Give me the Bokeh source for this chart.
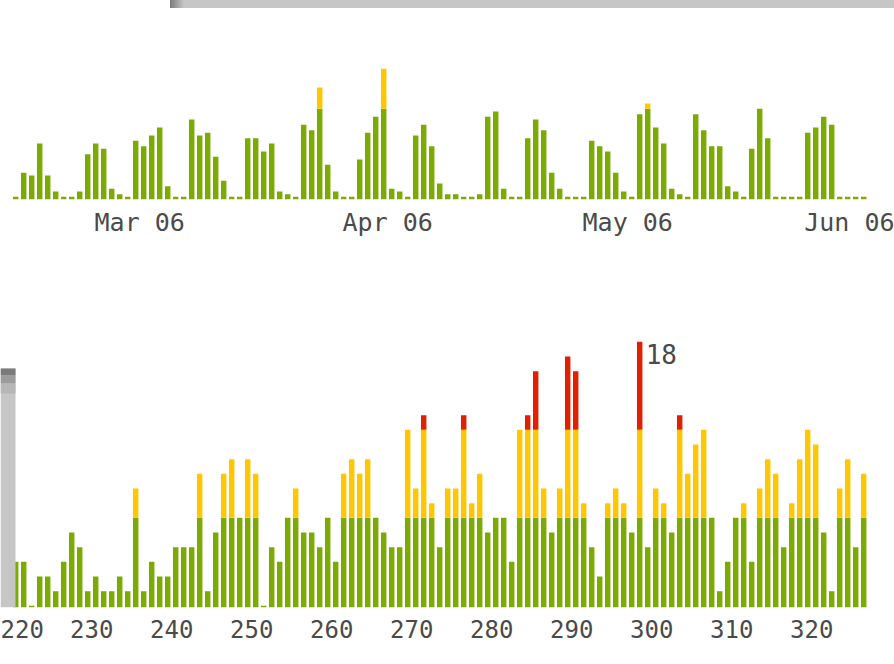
import pandas as pd
from bokeh.plotting import figure
from bokeh.models import (ColumnDataSource, Range1d, FixedTicker, DatetimeTickFormatter,
                          BoxAnnotation, Spacer, Div)
from bokeh.layouts import column, row
from bokeh.embed import file_html
from bokeh.resources import INLINE
from bokeh.core.properties import value

# ---------------- data ----------------
top_start = "2006-02-13"
top_values = [0, 9, 8, 20, 8, 2, 0, 0, 2, 16,
              20, 18, 3, 1, 0, 21, 19, 23, 26, 4,
              0, 0, 29, 23, 24, 15, 6, 0, 0, 22,
              22, 17, 20, 2, 1, 0, 27, 25, 41, 12,
              2, 0, 0, 14, 24, 30, 48, 3, 2, 0,
              23, 27, 19, 5, 1, 1, 0, 0, 1, 30,
              32, 3, 0, 0, 22, 29, 25, 9, 3, 0,
              0, 0, 21, 19, 17, 9, 2, 0, 31, 35,
              26, 20, 3, 1, 0, 31, 25, 19, 19, 4,
              2, 0, 18, 33, 22, 0, 0, 0, 0, 24,
              26, 30, 27, 0, 0, 0, 0]
top_green_cap = 33
top_month_ticks = ["2006-03-01", "2006-04-01", "2006-05-01", "2006-06-01"]

bottom_days = list(range(220, 327))
bottom_values = [3, 3, 0, 2, 2, 1, 3, 5, 4, 1,
                 2, 1, 1, 2, 1, 8, 1, 3, 2, 2,
                 4, 4, 4, 9, 1, 5, 9, 10, 6, 10,
                 9, 0, 4, 3, 6, 8, 5, 5, 4, 6,
                 3, 9, 10, 9, 10, 6, 5, 4, 4, 12,
                 8, 13, 7, 4, 8, 8, 13, 7, 9, 5,
                 6, 6, 3, 12, 13, 16, 8, 5, 8, 17,
                 16, 7, 4, 2, 7, 8, 7, 5, 18, 4,
                 8, 7, 5, 13, 9, 11, 12, 6, 1, 3,
                 6, 7, 3, 8, 10, 9, 4, 7, 10, 12,
                 11, 5, 1, 8, 10, 4, 9]
bottom_green_cap = 6
bottom_yellow_cap = 12
bottom_ticks = [220, 230, 240, 250, 260, 270, 280, 290, 300, 310, 320]

# ---------------- style ----------------
GREEN = "#7baa00"
YELLOW = "#ffc700"
RED = "#e02000"
GRAY = "#c6c6c6"
LABEL_COLOR = "#4a4a4a"
FONT = "DejaVu Sans Mono"
DAY = 86400000.0
BAR_W = 0.68

# ---------------- top gray band (edge of the window behind) ----------------
band = Div(text="", width=724, height=8, margin=0,
           styles={"background": "linear-gradient(to right, #7a7a7a 0px, #c6c6c6 14px, #c6c6c6 100%)"})

# ---------------- top chart ----------------
dates = pd.date_range(top_start, periods=len(top_values), freq="D")
day0 = pd.Timestamp(top_start).value / 1e6
xc = [d.value / 1e6 + DAY / 2 for d in dates]
top_base = -1.0

g_src = ColumnDataSource(dict(x=xc, top=[min(v, top_green_cap) for v in top_values],
                              bottom=[top_base] * len(top_values)))
yx = [x for x, v in zip(xc, top_values) if v > top_green_cap]
yv = [v for v in top_values if v > top_green_cap]
y_src = ColumnDataSource(dict(x=yx, top=yv, bottom=[top_green_cap] * len(yv)))

p1 = figure(width=894, height=292, x_axis_type="datetime",
            x_range=Range1d(day0 - 1.4 * DAY, day0 + 110.35 * DAY),
            y_range=Range1d(top_base, 70.6),
            y_axis_location=None, output_backend="svg", toolbar_location=None,
            min_border_left=0, min_border_right=0, min_border_top=0, min_border_bottom=101)
p1.vbar(x="x", top="top", bottom="bottom", width=BAR_W * DAY, source=g_src,
        fill_color=GREEN, line_color=None)
p1.vbar(x="x", top="top", bottom="bottom", width=BAR_W * DAY, source=y_src,
        fill_color=YELLOW, line_color=None)
p1.xaxis.ticker = FixedTicker(ticks=[pd.Timestamp(t).value / 1e6 for t in top_month_ticks])
p1.xaxis.formatter = DatetimeTickFormatter(days="%b %y", months="%b %y", years="%b %y")

# ---------------- bottom chart ----------------
bx = [d + 0.5 for d in bottom_days]
bottom_base = -0.114
gb = [min(v, bottom_green_cap) for v in bottom_values]
src_g2 = ColumnDataSource(dict(x=bx, top=gb, bottom=[bottom_base] * len(bx)))
yx2, yt2 = [], []
rx2, rt2 = [], []
for x, v in zip(bx, bottom_values):
    if v > bottom_green_cap:
        yx2.append(x)
        yt2.append(min(v, bottom_yellow_cap))
    if v > bottom_yellow_cap:
        rx2.append(x)
        rt2.append(v)
src_y2 = ColumnDataSource(dict(x=yx2, top=yt2, bottom=[bottom_green_cap] * len(yx2)))
src_r2 = ColumnDataSource(dict(x=rx2, top=rt2, bottom=[bottom_yellow_cap] * len(rx2)))

p2 = figure(width=894, height=356,
            x_range=Range1d(218.6, 330.35), y_range=Range1d(bottom_base, 20.82),
            y_axis_location=None, output_backend="svg", toolbar_location=None,
            min_border_left=0, min_border_right=0, min_border_top=0, min_border_bottom=49)
for s, c in ((src_g2, GREEN), (src_y2, YELLOW), (src_r2, RED)):
    p2.vbar(x="x", top="top", bottom="bottom", width=BAR_W, source=s,
            fill_color=c, line_color=None)
p2.xaxis.ticker = FixedTicker(ticks=bottom_ticks)

peak = max(bottom_values)
peak_day = bottom_days[bottom_values.index(peak)]
p2.text(x=[peak_day + 1], y=[peak], text=[str(peak)], x_offset=2, y_offset=2,
        text_baseline="top", text_align="left", text_font=value(FONT),
        text_font_size="26px", text_color=LABEL_COLOR)

# left gray strip (edge of the window behind), drawn over the first bar
for top_px, bot_px, col in ((239, 0, GRAY), (239, 232, "#7a7a7a"),
                            (232, 224, "#9c9c9c"), (224, 214, "#b6b6b6")):
    p2.add_layout(BoxAnnotation(left=0, right=15, top=top_px, bottom=bot_px,
                                left_units="screen", right_units="screen",
                                top_units="screen", bottom_units="screen",
                                fill_color=col, fill_alpha=1, line_color=None))

for p, fs, so in ((p1, "25px", 8), (p2, "24px", 12)):
    p.xgrid.visible = False
    p.ygrid.visible = False
    p.outline_line_color = None
    p.background_fill_color = "white"
    p.border_fill_color = "white"
    ax = p.xaxis
    ax.axis_line_color = None
    ax.major_tick_line_color = None
    ax.minor_tick_line_color = None
    ax.major_tick_out = 0
    ax.major_tick_in = 0
    ax.minor_tick_out = 0
    ax.major_label_standoff = so
    ax.major_label_text_font = FONT
    ax.major_label_text_font_size = fs
    ax.major_label_text_color = LABEL_COLOR

layout = column(row(Spacer(width=170, height=8), band, spacing=0),
                p1,
                p2,
                spacing=0)
open("out.html", "w").write(file_html(layout, INLINE))
